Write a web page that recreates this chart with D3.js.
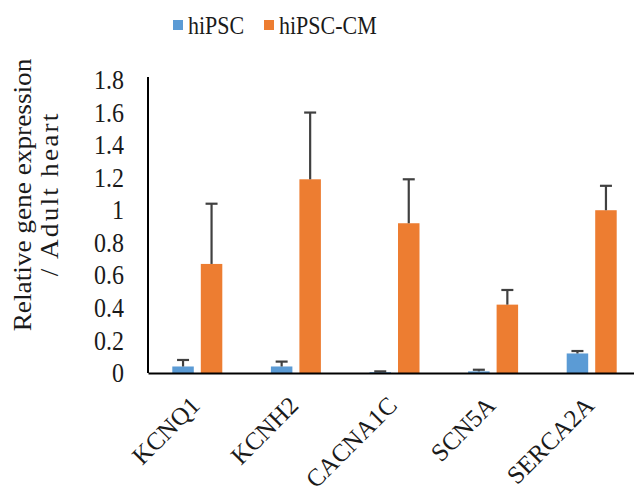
<!DOCTYPE html>
<html>
<head>
<meta charset="utf-8">
<script src="https://cdn.jsdelivr.net/npm/d3@7"></script>
<style>
  body { margin: 0; background: #fff; }
  text { font-family: "Liberation Serif", "Times New Roman", serif; fill: #1a1a1a; }
</style>
</head>
<body>
<svg id="chart" width="634" height="493"></svg>
<script>
// * chart data
const genes = ["KCNQ1", "KCNH2", "CACNA1C", "SCN5A", "SERCA2A"];
const seriesNames = ["hiPSC", "hiPSC-CM"];
const hipscValues = [0.04, 0.04, 0.005, 0.01, 0.12];
const hipscErrors = [0.04, 0.03, 0.005, 0.01, 0.015];
const cmValues = [0.67, 1.19, 0.92, 0.42, 1.0];
const cmErrors = [0.37, 0.41, 0.27, 0.09, 0.15];
const yTicks = [0, 0.2, 0.4, 0.6, 0.8, 1, 1.2, 1.4, 1.6, 1.8];
const colors = ["#5B9BD5", "#ED7D31"];

const svg = d3.select("#chart");
const margin = { left: 148, top: 80, bottom: 120 };
const plotRight = 641;
const baseY = 373;

const x0 = d3.scaleBand().domain(genes).range([margin.left, plotRight]).padding(0);
const x1 = d3.scaleBand().domain(seriesNames).range([-25, 25]).paddingInner(0.246);
const y = d3.scaleLinear().domain([0, 1.8]).range([baseY, margin.top]);

const rows = genes.map((gene, i) => ({
  gene,
  items: [
    { series: seriesNames[0], value: hipscValues[i], err: hipscErrors[i] },
    { series: seriesNames[1], value: cmValues[i], err: cmErrors[i] },
  ],
}));

// * y axis
const yAxis = svg
  .append("g")
  .attr("transform", `translate(${margin.left},0)`)
  .call(d3.axisLeft(y).tickValues(yTicks).tickSize(0).tickSizeOuter(0).tickPadding(24).tickFormat((d) => `${d}`));
yAxis.select(".domain").attr("stroke", "#000").attr("stroke-width", 2).attr("d", `M0,${baseY}V77`);
yAxis
  .selectAll("text")
  .style("font-family", '"Liberation Serif", serif')
  .style("font-size", "24px")
  .attr("fill", "#222")
  .attr("transform", "scale(1,1.12)");

// * bars
const groups = svg
  .append("g")
  .selectAll("g")
  .data(rows)
  .enter()
  .append("g")
  .attr("transform", (row) => `translate(${x0(row.gene) + x0.bandwidth() / 2},0)`);

groups
  .selectAll("rect")
  .data((row) => row.items)
  .enter()
  .append("rect")
  .attr("x", (item) => x1(item.series))
  .attr("y", (item) => y(item.value))
  .attr("width", x1.bandwidth())
  .attr("height", (item) => baseY - y(item.value))
  .style("fill", (item, i) => colors[i]);

// * error bars (upper only)
const errs = groups
  .selectAll("g.err")
  .data((row) => row.items)
  .enter()
  .append("g")
  .attr("class", "err")
  .style("stroke", "#404040")
  .style("stroke-width", 2.2);
errs
  .append("line")
  .attr("x1", (item) => x1(item.series) + x1.bandwidth() / 2)
  .attr("x2", (item) => x1(item.series) + x1.bandwidth() / 2)
  .attr("y1", (item) => y(item.value))
  .attr("y2", (item) => y(item.value + item.err));
errs
  .append("line")
  .attr("x1", (item) => x1(item.series) + x1.bandwidth() / 2 - 6)
  .attr("x2", (item) => x1(item.series) + x1.bandwidth() / 2 + 6)
  .attr("y1", (item) => y(item.value + item.err))
  .attr("y2", (item) => y(item.value + item.err));

// * x axis
const xAxis = svg
  .append("g")
  .attr("transform", `translate(0,${baseY})`)
  .call(d3.axisBottom(x0).tickSize(0).tickSizeOuter(0).tickPadding(0));
xAxis.select(".domain").attr("stroke", "#000").attr("stroke-width", 2);
xAxis
  .selectAll("text")
  .style("font-family", '"Liberation Serif", serif')
  .style("font-size", "25px")
  .attr("fill", "#222")
  .attr("text-anchor", "end")
  .attr("dy", 0)
  .attr("y", 0)
  .attr("transform", "translate(4,34) rotate(-45)");

// * y axis title
const title = svg
  .append("text")
  .attr("transform", "translate(31,195) rotate(-90) scale(1.05,1)")
  .attr("text-anchor", "middle")
  .style("font-size", "26px")
  .attr("fill", "#222");
title.append("tspan").attr("x", 0).attr("y", 0).text("Relative gene expression");
title
  .append("tspan")
  .attr("x", 0)
  .attr("y", 27)
  .attr("textLength", 155)
  .attr("lengthAdjust", "spacing")
  .text("/ Adult heart");

// * legend
const legend = svg
  .append("g")
  .selectAll("g")
  .data(seriesNames)
  .enter()
  .append("g")
  .attr("transform", (d, i) => `translate(${[173, 264][i]},20)`);
legend.append("rect").attr("width", 10).attr("height", 10).style("fill", (d, i) => colors[i]);
legend
  .append("text")
  .attr("transform", "translate(15,14) scale(1,1.12)")
  .style("font-size", "22px")
  .attr("fill", "#222")
  .text((d) => d);
</script>
</body>
</html>
